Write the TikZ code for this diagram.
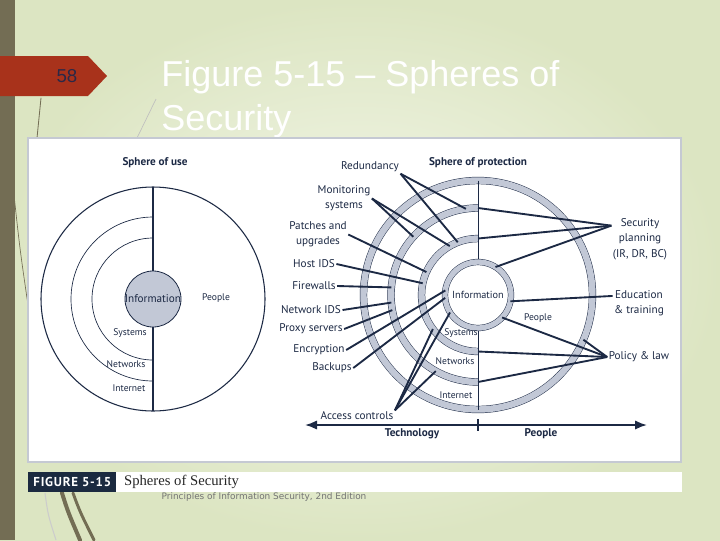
\documentclass[tikz,border=0pt]{standalone}
\usepackage{fontspec}
\setmainfont{Liberation Sans}
\newfontfamily\figfont{PT Sans}
\newfontfamily\capfont{Liberation Serif}
\newfontfamily\srcfont{DejaVu Sans}
\usepackage{xcolor}
\usetikzlibrary{arrows.meta,calc,positioning}
\definecolor{ink}{HTML}{1C2944}
\definecolor{band}{HTML}{C2C8D6}
\definecolor{slidein}{HTML}{F5F8EC}
\definecolor{slideout}{HTML}{DCE5C2}
\definecolor{strip}{HTML}{736D54}
\definecolor{tabred}{HTML}{A8321B}
\definecolor{pagenum}{HTML}{2B2847}
\definecolor{capnavy}{HTML}{1B2A40}
\definecolor{figedge}{HTML}{C5C9D3}
\newcommand{\lsize}{\fontsize{8.4}{11.5}\selectfont}
\newcommand{\ssize}{\fontsize{7.2}{9}\selectfont}

\begin{document}
\begin{tikzpicture}[x=0.75pt,y=-0.75pt,>=Latex,
  lab/.style={font=\figfont\lsize,text=ink,inner sep=1pt,align=center},
  small/.style={font=\figfont\ssize,text=ink,inner sep=1pt},
  head/.style={font=\figfont\bfseries\lsize,text=ink,inner sep=1pt},
  ttl/.style={font=\fontsize{27}{33}\selectfont,text=white,inner sep=0pt},
  wire/.style={draw=ink,line width=1.4pt},
  bandline/.style={draw=ink,line width=0.35pt,double=band,double distance=4.8pt},
  ring/.style={circle,inner sep=0pt,outer sep=0pt,minimum size=#1},
  swoosh/.style={draw=strip,line cap=round}]

  % slide background
  \useasboundingbox (0,0) rectangle (720,540);
  \shade[inner color=slidein,outer color=slideout] (0,0) rectangle (720,540);
  \fill[strip] (0,0) rectangle (15,540);
  \draw[swoosh,line width=0.6pt] (41,98) -- (37,138);
  \draw[swoosh,line width=0.5pt] (14,195) .. controls (20,250) .. (28,305);
  \draw[black!25,line width=0.5pt] (156,99) -- (137,138);
  \draw[black!20,line width=0.8pt] (45,493) .. controls (48,515) .. (56,540);
  \draw[swoosh,line width=3pt] (62,493) .. controls (68,512) .. (80,540);
  \draw[swoosh,line width=2.2pt] (73,493) .. controls (80,512) .. (94,540);

  % page tab and title
  \fill[tabred] (0,56) -- (88,56) -- (107,76) -- (88,96) -- (0,96) -- cycle;
  \node[font=\fontsize{14}{16}\selectfont,text=pagenum] (pgno) at (67,76) {58};
  \node[ttl,anchor=base west] (title1) at (161,86) {Figure 5-15 – Spheres of};
  \node[ttl,anchor=base west] (title2) at (161,130) {Security};

  % figure frame and caption
  \draw[draw=figedge,fill=white,line width=0.8pt] (28,138) rectangle (681,462);
  \fill[white] (116,472) rectangle (682,492);
  \node[fill=capnavy,text=white,font=\figfont\bfseries\fontsize{9.7}{11}\selectfont\addfontfeature{LetterSpace=6},
        minimum width=66pt,minimum height=15pt,inner sep=0pt,anchor=north west] (figno) at (28,472) {FIGURE 5-15};
  \node[font=\capfont\fontsize{11}{13}\selectfont,text=black!85,inner sep=0pt,right=5.5pt of figno] (figcap) {Spheres of Security};
  \node[font=\srcfont\fontsize{6.7}{8}\selectfont,text=black!55] (src) at (264,497) {Principles of Information Security, 2nd Edition};

  % sphere of use
  \node[head] (usehd) at (155,163) {Sphere of use};
  \coordinate (u) at (153,299);
  \draw[ink,line width=0.5pt] ($(u)+(90:82)$) arc[start angle=90,end angle=270,radius=82];
  \draw[ink,line width=0.5pt] ($(u)+(90:61)$) arc[start angle=90,end angle=270,radius=61];
  \node[ring=168pt,draw=ink,line width=0.8pt] (uout) at (u) {};
  \draw[ink,line width=0.8pt] (uout.north) -- (uout.south);
  \node[ring=42pt,draw=ink,fill=band,line width=0.6pt] (uinfo) at (u) {};
  \node[lab,inner sep=0pt] (uinfotxt) at (uinfo) {Information};
  \node[small] (upeople) at (216,298) {People};
  \node[small] (usys) at (130,333) {Systems};
  \node[small] (unet) at (126,364) {Networks};
  \node[small] (uinet) at (129,388) {Internet};

  % sphere of protection
  \node[head] (prothd) at (478,163) {Sphere of protection};
  \coordinate (pc) at (478,295);
  \draw[bandline] ($(pc)+(90:87)$) arc[start angle=90,end angle=270,radius=87];
  \draw[bandline] ($(pc)+(90:56.5)$) arc[start angle=90,end angle=270,radius=56.5];
  \node[ring=171.75pt,draw=ink,line width=0.35pt,double=band,double distance=4.8pt] (pout) at (pc) {};
  \node[ring=130.5pt] (pnet) at (pc) {};
  \node[ring=84.75pt] (psys) at (pc) {};
  \draw[ink,line width=0.7pt] (pout.north) -- (pout.south);
  \node[ring=49.5pt,draw=ink,line width=0.35pt,double=band,double distance=4pt,fill=white,
        font=\figfont\fontsize{7.7}{9}\selectfont,text=ink] (pinfo) at (pc) {Information};
  \node[small] (ppeople) at (538,318) {People};
  \node[small] (psystxt) at (461,333) {Systems};
  \node[small] (pnettxt) at (455,361) {Networks};
  \node[small] (pinet) at (456,395) {Internet};

  % controls
  \node[lab] (red) at (370,167) {Redundancy};
  \node[lab] (mon) at (344,198.5) {Monitoring\\systems};
  \node[lab] (pat) at (318,234.5) {Patches and\\upgrades};
  \foreach \n/\t/\x/\y in {hids/Host IDS/314/264, fw/Firewalls/314/286, nids/Network IDS/311/310,
                           prox/Proxy servers/311/329, enc/Encryption/319/350, bak/Backups/332/368}
    \node[lab] (\n) at (\x,\y) {\t};
  \node[lab] (acc) at (357,416) {Access controls};
  \node[lab] (sec) at (640,239) {Security\\planning\\(IR, DR, BC)};
  \node[lab] (edu) at (639,303) {Education\\\& training};
  \node[lab] (pol) at (639,357) {Policy \& law};

  \foreach \a/\b in {red.south east/pnet.98, red.south east/psys.111, mon.east/pnet.138, mon.east/psys.120,
                     pat.east/psys.156, hids.east/psys.168, fw.east/pnet.175, nids.east/pnet.185,
                     prox.east/pnet.190, enc.east/pinfo.172, bak.east/pinfo.185,
                     acc.north east/psys.217, acc.north east/pinfo.212, acc.north east/pnet.241,
                     sec.155/pnet.north, sec.155/psys.north, sec.155/pinfo.58, edu.165/pinfo.-11,
                     pol.west/pinfo.-43, pol.west/psys.south, pol.west/pnet.south, pol.west/pout.-23}
    \draw[wire] (\a) -- (\b);

  % technology / people axis
  \coordinate (axl) at (305,425);
  \coordinate (axr) at (647,425);
  \coordinate (tick) at (478,425);
  \draw[wire,{Latex[length=9pt,width=7pt]}-{Latex[length=9pt,width=7pt]}] (axl) -- (axr);
  \draw[wire] ([yshift=4.5pt]tick) -- ([yshift=-4.5pt]tick);
  \node[head] (tech) at (412,434) {Technology};
  \node[head] (ppl) at (541,434) {People};
\end{tikzpicture}
\end{document}
